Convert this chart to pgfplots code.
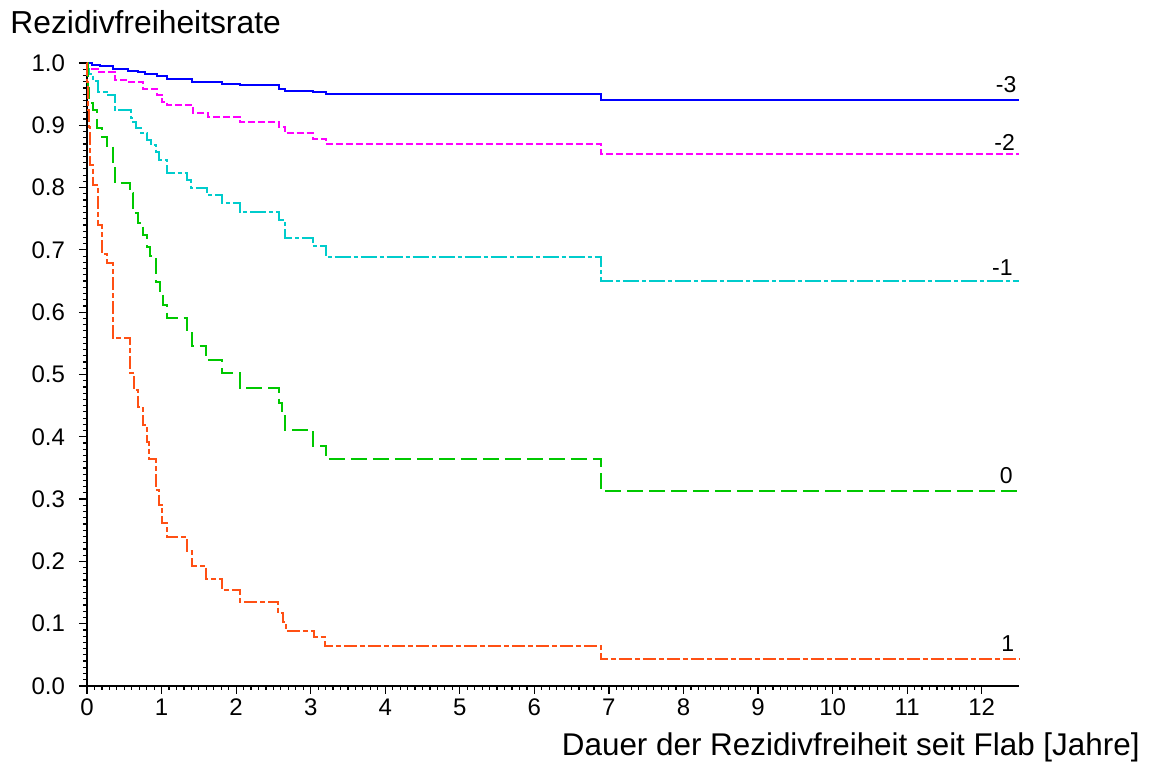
\documentclass[border=0pt]{standalone}
\usepackage{fontspec}
\setmainfont{Liberation Sans}
\usepackage{pgfplots}
\pgfplotsset{compat=1.18}
\definecolor{cblue}{RGB}{0,0,255}
\definecolor{cmag}{RGB}{255,0,255}
\definecolor{ccyan}{RGB}{0,204,204}
\definecolor{cgreen}{RGB}{0,200,0}
\definecolor{corange}{RGB}{255,80,20}
\begin{document}
\begin{tikzpicture}
\useasboundingbox (-43.5pt,-39pt) rectangle (532.5pt,343pt);
\begin{axis}[
  at={(0pt,0pt)}, anchor=south west,
  scale only axis, width=466pt, height=311.5pt,
  xmin=0, xmax=12.5, ymin=0, ymax=1,
  axis lines=left, axis line style={-, line width=1.2pt},
  xtick={0,1,2,3,4,5,6,7,8,9,10,11,12},
  ytick={0,0.1,0.2,0.3,0.4,0.5,0.6,0.7,0.8,0.9,1.0},
  minor x tick num=9, minor y tick num=9,
  tick align=outside, major tick length=4pt, minor tick length=2pt,
  tick style={black, line width=0.6pt},
  ticklabel style={font=\fontsize{12}{14}\selectfont},
  /pgf/number format/assume math mode=true,
  yticklabel style={/pgf/number format/fixed, /pgf/number format/fixed zerofill, /pgf/number format/precision=1, xshift=-3.5pt},
  xticklabel style={yshift=1pt},
  xlabel={Dauer der Rezidivfreiheit seit Flab [Jahre]},
  ylabel={Rezidivfreiheitsrate},
  every axis x label/.style={at={(axis description cs:1.1298,-0.1108)}, anchor=base east, inner sep=0pt, font=\fontsize{15.7}{18}\selectfont},
  every axis y label/.style={at={(axis description cs:-0.0826,1.048)}, anchor=base west, inner sep=0pt, font=\fontsize{15.9}{18}\selectfont},
  clip=false,
  every axis plot/.append style={const plot mark left, line width=1pt},
]
% -3
\addplot[cblue, solid] coordinates {
(0,1.0) (0.063,0.997) (0.174,0.995) (0.353,0.990) (0.554,0.987) (0.688,0.985)
(0.777,0.982) (0.934,0.979) (1.068,0.974) (1.403,0.969) (1.806,0.967) (2.05,0.9645)
(2.58,0.959) (2.654,0.955) (3.03,0.953) (3.2,0.950) (6.89,0.941) (12.5,0.941)};
% -2
\addplot[cmag, dash pattern=on 3.5pt off 1.5pt] coordinates {
(0,1.0) (0.018,0.991) (0.15,0.986) (0.375,0.973) (0.554,0.970) (0.755,0.959)
(0.934,0.948) (1.0,0.938) (1.068,0.933) (1.425,0.920) (1.626,0.914) (2.05,0.905)
(2.58,0.898) (2.654,0.887) (3.03,0.878) (3.2,0.870) (6.89,0.854) (12.5,0.854)};
% -1
\addplot[ccyan, dash pattern=on 8pt off 1.5pt on 2pt off 1.5pt] coordinates {
(0,1.0) (0.01,0.99) (0.03,0.983) (0.085,0.971) (0.152,0.954) (0.264,0.949)
(0.375,0.925) (0.585,0.912) (0.62,0.905) (0.66,0.895) (0.72,0.887) (0.80,0.876)
(0.86,0.868) (0.93,0.857) (0.97,0.845) (1.068,0.823) (1.336,0.812) (1.40,0.799)
(1.604,0.788) (1.806,0.775) (2.05,0.761) (2.58,0.748) (2.654,0.719) (3.03,0.707)
(3.2,0.688) (6.89,0.650) (12.5,0.650)};
% 0
\addplot[cgreen, dash pattern=on 8pt off 3pt] coordinates {
(0,1.0) (0.01,0.98) (0.02,0.96) (0.031,0.936) (0.085,0.925) (0.138,0.895)
(0.197,0.882) (0.264,0.866) (0.353,0.834) (0.375,0.807) (0.576,0.791) (0.621,0.759)
(0.688,0.743) (0.755,0.724) (0.80,0.705) (0.85,0.690) (0.925,0.649) (0.979,0.630)
(1.023,0.611) (1.077,0.590) (1.336,0.571) (1.403,0.545) (1.6,0.523) (1.806,0.503)
(2.05,0.479) (2.58,0.455) (2.61,0.433) (2.654,0.411) (3.03,0.386) (3.2,0.364)
(6.89,0.313) (12.5,0.313)};
% 1
\addplot[corange, dash pattern=on 6.5pt off 1.5pt on 2.5pt off 1.5pt] coordinates {
(0,1.0) (0.005,0.97) (0.01,0.94) (0.02,0.925) (0.03,0.898) (0.04,0.836)
(0.085,0.804) (0.15,0.740) (0.197,0.694) (0.264,0.679) (0.345,0.559) (0.576,0.502)
(0.63,0.475) (0.688,0.448) (0.745,0.419) (0.80,0.392) (0.835,0.365) (0.925,0.315)
(0.97,0.291) (1.0,0.261) (1.068,0.239) (1.336,0.216) (1.403,0.193) (1.6,0.172)
(1.806,0.154) (2.05,0.135) (2.565,0.117) (2.63,0.103) (2.67,0.088) (3.04,0.078)
(3.19,0.064) (6.89,0.043) (12.5,0.043)};
\node[anchor=east, inner sep=0pt, font=\fontsize{11.5}{14}\selectfont] at (axis cs:12.47,0.9647) {-3};
\node[anchor=east, inner sep=0pt, font=\fontsize{11.5}{14}\selectfont] at (axis cs:12.45,0.872) {-2};
\node[anchor=east, inner sep=0pt, font=\fontsize{11.5}{14}\selectfont] at (axis cs:12.42,0.672) {-1};
\node[anchor=east, inner sep=0pt, font=\fontsize{11.5}{14}\selectfont] at (axis cs:12.42,0.337) {0};
\node[anchor=east, inner sep=0pt, font=\fontsize{11.5}{14}\selectfont] at (axis cs:12.44,0.0674) {1};
\end{axis}
\end{tikzpicture}
\end{document}
